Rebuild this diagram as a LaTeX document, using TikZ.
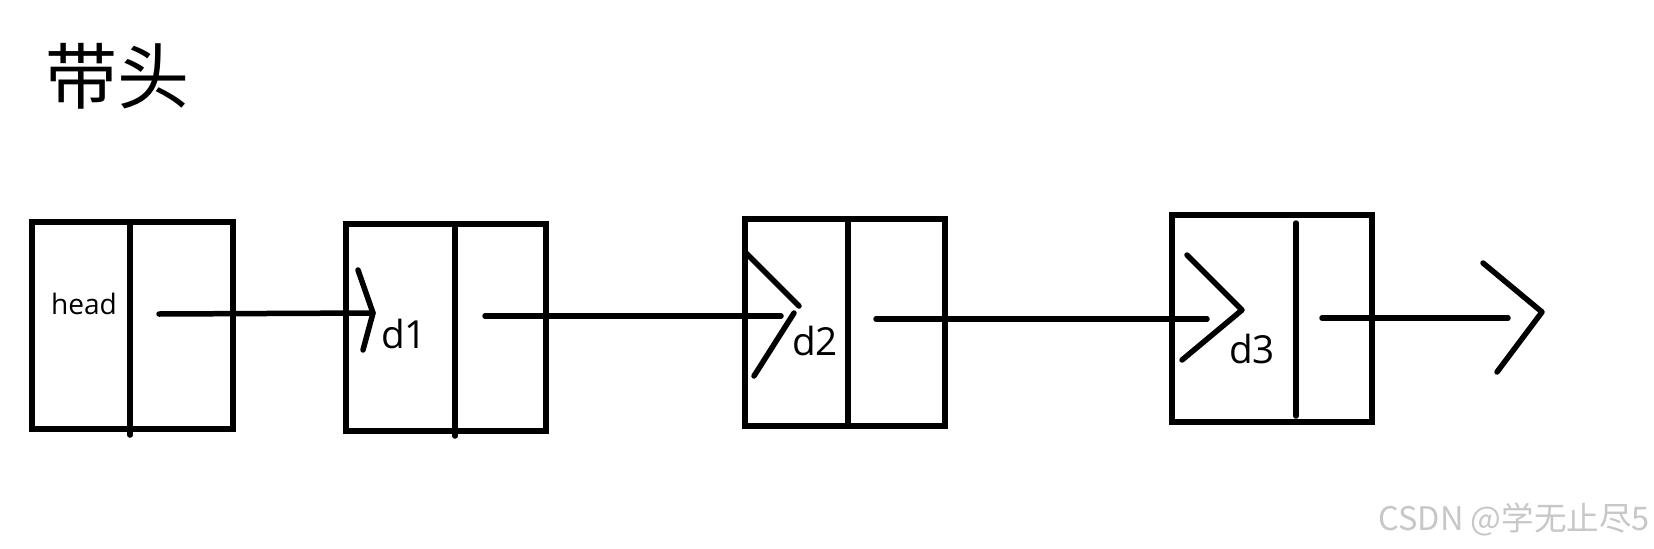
\documentclass[tikz,border=0pt]{standalone}
\usepackage{fontspec}
\setmainfont{Open Sans}
\newfontfamily\cjk{Noto Sans CJK SC}
\tikzset{
  cella/.style={draw,line width=1.2mm,minimum width=40mm,minimum height=41.4mm,inner sep=0pt},
  seg/.style={line width=1.1mm,line cap=round,line join=round},
  felirat/.style={inner sep=0pt,font=\fontsize{22}{26}\selectfont},
}
\begin{document}
\begin{tikzpicture}[x=0.2mm,y=-0.2mm]
  \useasboundingbox (0,0) rectangle (1654,549);
  \node[inner sep=0pt,font=\cjk\fontsize{41}{48}\selectfont] (cim) at (118,76) {带头};
  % cellak
  \node[cella] (head) at (132.5,325.5) {};
  \node[cella] (d1) at (446,327.5) {};
  \node[cella] (d2) at (844.5,322) {};
  \node[cella] (d3) at (1272,318) {};
  \draw[seg] (130,225) -- (130,435);
  \draw[seg] (455,228) -- (455,436);
  \draw[seg] (848,222) -- (848,426);
  \draw[seg] (1296,223) -- (1296,416);
  \node[felirat,font=\fontsize{16}{19}\selectfont] (th) at (84,304) {head};
  \node[felirat] (t1) at (404,334) {d1};
  \node[felirat] (t2) at (815,341) {d2};
  \node[felirat] (t3) at (1252,349) {d3};
  % mutatok
  \coordinate (p0) at (159,314);  \coordinate (q1) at (373,313);
  \coordinate (p1) at (485,316);  \coordinate (q2) at (781,316);
  \coordinate (p2) at (876,319);  \coordinate (q3) at (1207,319);
  \coordinate (p3) at (1322,318); \coordinate (q4) at (1508,318);
  \draw[seg] (p0) -- (q1);
  \draw[seg] (p1) -- (q2);
  \draw[seg] (p2) -- (q3);
  \draw[seg] (p3) -- (q4);
  \draw[seg] (q1) ++(-15,-43) -- (q1) -- ++(-10,37);
  \draw[seg] (799,306) ++(-53,-53) -- (799,306);
  \draw[seg] (794,313) -- (754,376);
  \draw[seg] (1242,310) ++(-55,-55) -- (1242,310) -- (1182,360);
  \draw[seg] (1542,312) ++(-59,-49) -- (1542,312) -- (1497,372);
  \node[inner sep=0pt,anchor=east,text=black!22,font=\cjk\fontsize{18.5}{22}\selectfont] (wm) at (1650,520) {CSDN @学无止尽5};
\end{tikzpicture}
\end{document}
